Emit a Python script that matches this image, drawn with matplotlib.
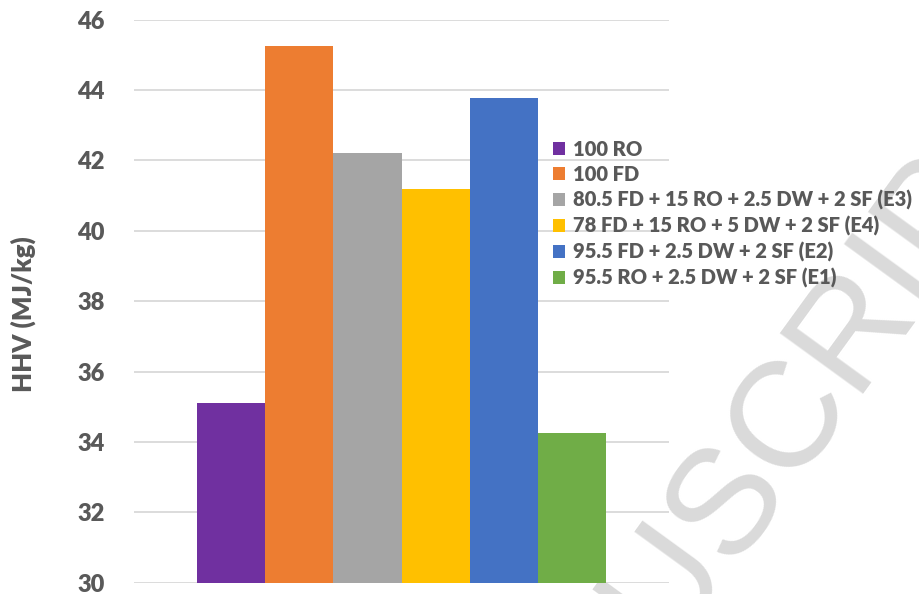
import numpy as np
import matplotlib
matplotlib.use("Agg")
import matplotlib.pyplot as plt
from matplotlib.font_manager import FontProperties

# HHV of the fuels and blends (MJ/kg)
labels = ["100 RO", "100 FD", "80.5 FD + 15 RO + 2.5 DW + 2 SF (E3)",
          "78 FD + 15 RO + 5 DW + 2 SF (E4)", "95.5 FD + 2.5 DW + 2 SF (E2)",
          "95.5 RO + 2.5 DW + 2 SF (E1)"]
hhv = [35.1, 45.25, 42.2, 41.18, 43.77, 34.26]
colors = ["#7030A0", "#ED7D31", "#A5A5A5", "#FFC000", "#4472C4", "#70AD47"]
yticks = [30, 32, 34, 36, 38, 40, 42, 44, 46]
watermark = "ACCEPTED MANUSCRIPT"

text_col = "#595959"
plt.rcParams["font.family"] = ["Lato", "DejaVu Sans"]
wt = "heavy"

fig = plt.figure(figsize=(9.19, 5.94), dpi=100)
ax = fig.add_axes([134 / 919, 1 - 582.7 / 594, 535 / 919, 563 / 594])
ax.patch.set_alpha(0)

# watermark along a diagonal line, behind the chart; "S" centred near (720, 500)
wm_size = 108
wm_fp = FontProperties(family="Liberation Sans", size=wm_size)
renderer = fig.canvas.get_renderer()
em = wm_size * 100 / 72
ang = np.deg2rad(54)
d = np.array([np.cos(ang), np.sin(ang)])
perp = np.array([-np.sin(ang), np.cos(ang)])
k_s = watermark.index("MANUS") + 4
w_pre = renderer.get_text_width_height_descent(watermark[:k_s], wm_fp, ismath=False)[0]
w_s = renderer.get_text_width_height_descent("S", wm_fp, ismath=False)[0]
start = np.array([720, 594 - 500]) - (w_pre + w_s / 2) * d - 0.36 * em * perp
fig.text(start[0] / 919, start[1] / 594, watermark, fontproperties=wm_fp,
         color="#dadada", rotation=54, rotation_mode="anchor",
         ha="left", va="baseline", zorder=-5)

for i, (lab, v, c) in enumerate(zip(labels, hhv, colors)):
    ax.bar(i, v, width=1.0, color=c, label=lab, zorder=2)

gap = 0.92
ax.set_xlim(-0.5 - gap, len(hhv) - 0.5 + gap)
ax.set_ylim(30, 46)
ax.set_yticks(yticks)
ax.set_xticks([])
ax.yaxis.grid(True, color="#d9d9d9", linewidth=1.3, zorder=0)
ax.set_axisbelow(True)
for s in ax.spines.values():
    s.set_visible(False)
ax.tick_params(axis="y", length=0, pad=21, labelsize=17, labelcolor=text_col)
for t in ax.get_yticklabels():
    t.set_fontweight(wt)

ax.set_ylabel("HHV (MJ/kg)", fontsize=18.5, fontweight=wt, color=text_col)
ax.yaxis.set_label_coords(-0.183, 0.477)

leg = ax.legend(loc="upper left", bbox_to_anchor=(553 / 919, 1 - 140 / 594),
                bbox_transform=fig.transFigure, frameon=False, borderpad=0,
                borderaxespad=0, handlelength=0.62, handleheight=0.62,
                handletextpad=0.35, labelspacing=0.30,
                prop={"family": "Lato", "weight": wt, "size": 14.5})
for t in leg.get_texts():
    t.set_color(text_col)

fig.savefig("out.png", dpi=100)
